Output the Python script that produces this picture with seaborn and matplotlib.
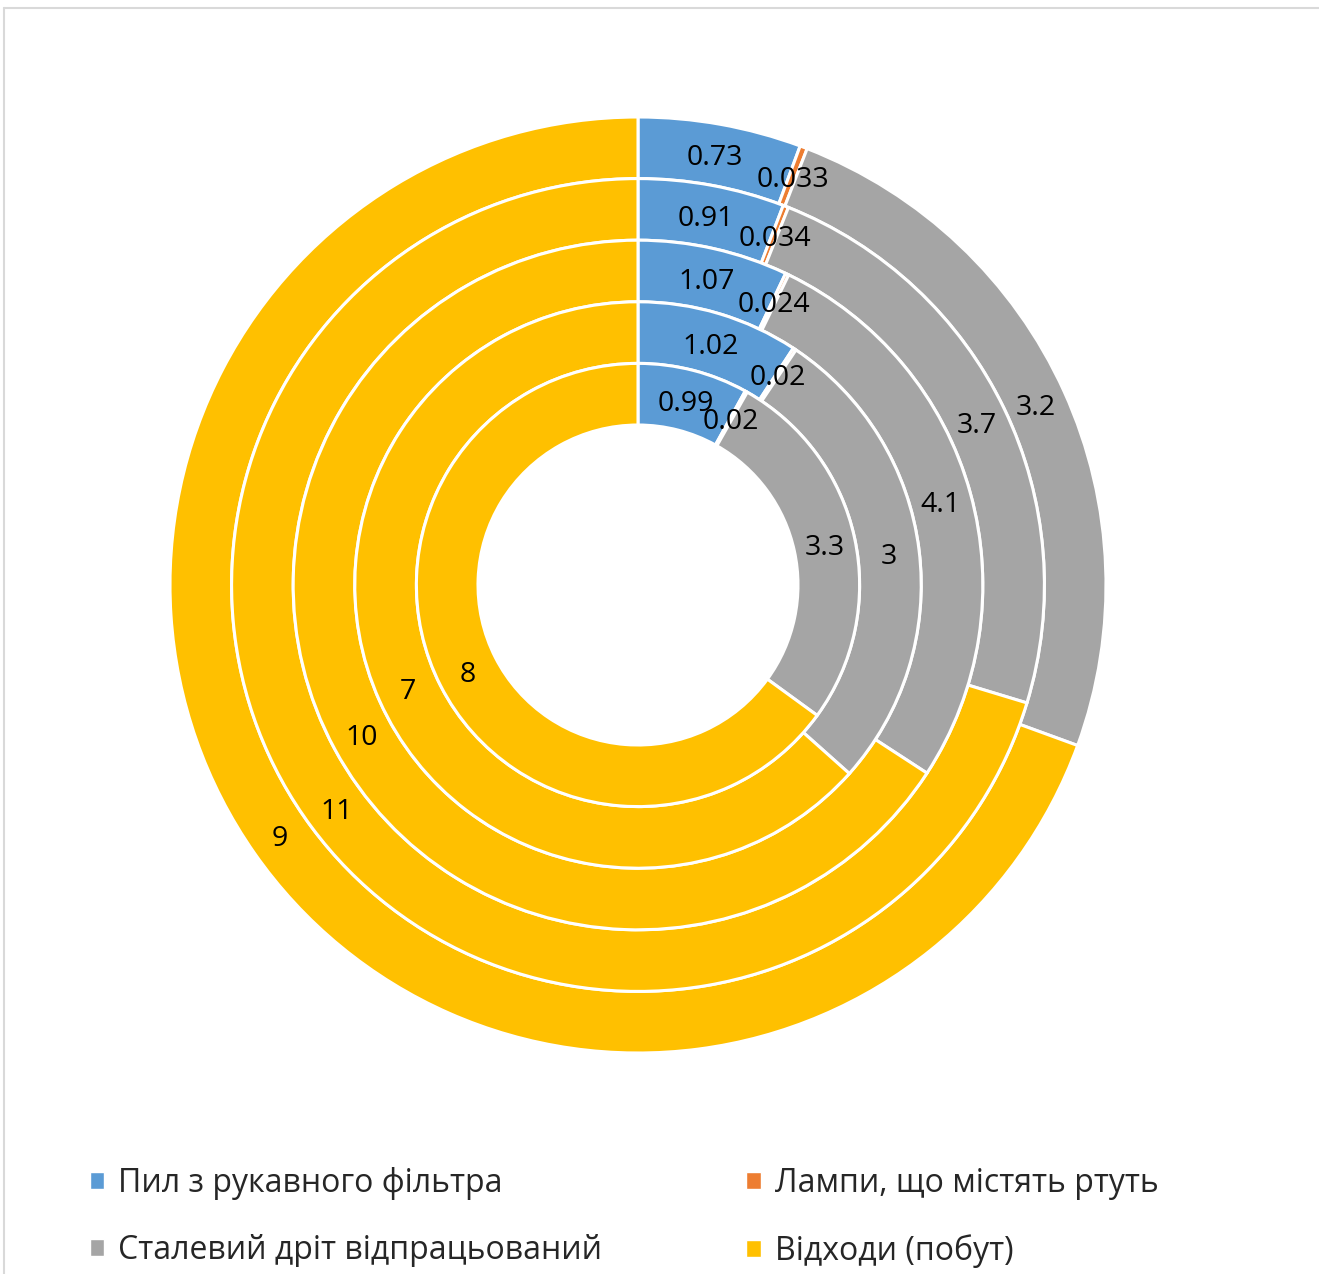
import matplotlib
matplotlib.use('Agg')
import matplotlib.pyplot as plt
import seaborn as sns
from matplotlib.patches import Patch
from matplotlib.lines import Line2D

# ---- data (rings from outer to inner) ----
categories = ['Пил з рукавного фільтра', 'Лампи, що містять ртуть',
              'Сталевий дріт відпрацьований', 'Відходи (побут)']
dust = [0.73, 0.91, 1.07, 1.02, 0.99]
lamps = [0.033, 0.034, 0.024, 0.02, 0.02]
wire = [3.2, 3.7, 4.1, 3, 3.3]
household = [9, 11, 10, 7, 8]

sns.set_theme(style='white')
plt.rcParams['font.family'] = ['Open Sans', 'DejaVu Sans']
colors = sns.color_palette(['#5B9BD5', '#ED7D31', '#A5A5A5', '#FFC000'])

W, H = 1319, 1274
fig = plt.figure(figsize=(W / 100, H / 100), dpi=100)
fig.patch.set_facecolor('white')
ax = fig.add_axes([170 / W, 221 / H, 936 / W, 936 / H])

ring_w = 61.6 / 468
series = [dust, lamps, wire, household]
for i in range(len(dust)):
    r = 1.0 - i * ring_w
    vals = [s[i] for s in series]
    labels = [f"{v:g}" for v in vals]
    wedges, texts = ax.pie(
        vals, radius=r, colors=colors, startangle=90, counterclock=False,
        labels=labels, labeldistance=(r - ring_w / 2) / r,
        wedgeprops=dict(width=ring_w, edgecolor='white', linewidth=2.2),
        textprops=dict(fontsize=20.5, color='black'))
    for w in wedges:
        w.set_clip_on(False)
    for t in texts:
        t.set_ha('center')
        t.set_va('center_baseline')

ax.set_xlim(-1, 1)
ax.set_ylim(-1, 1)
ax.set_aspect('equal')
ax.axis('off')

# chart-area border (left and top visible)
fig.add_artist(Line2D([3.5 / W, 3.5 / W], [0, 1 - 7.5 / H], transform=fig.transFigure,
                      color='#D9D9D9', lw=1.5))
fig.add_artist(Line2D([3.5 / W, 1], [1 - 7.5 / H, 1 - 7.5 / H], transform=fig.transFigure,
                      color='#D9D9D9', lw=1.5))

handles = [Patch(facecolor=colors[0]), Patch(facecolor=colors[2]),
           Patch(facecolor=colors[1]), Patch(facecolor=colors[3])]
labs = [categories[0], categories[2], categories[1], categories[3]]
fig.legend(handles, labs, ncol=2, loc='upper left',
           bbox_to_anchor=(90 / W, 1 - 1167 / H), frameon=False,
           fontsize=23, handlelength=0.45, handleheight=0.45, handletextpad=0.44,
           columnspacing=4.5, labelspacing=1.06, borderpad=0, borderaxespad=0)

fig.savefig('out.png', dpi=100, facecolor='white')
